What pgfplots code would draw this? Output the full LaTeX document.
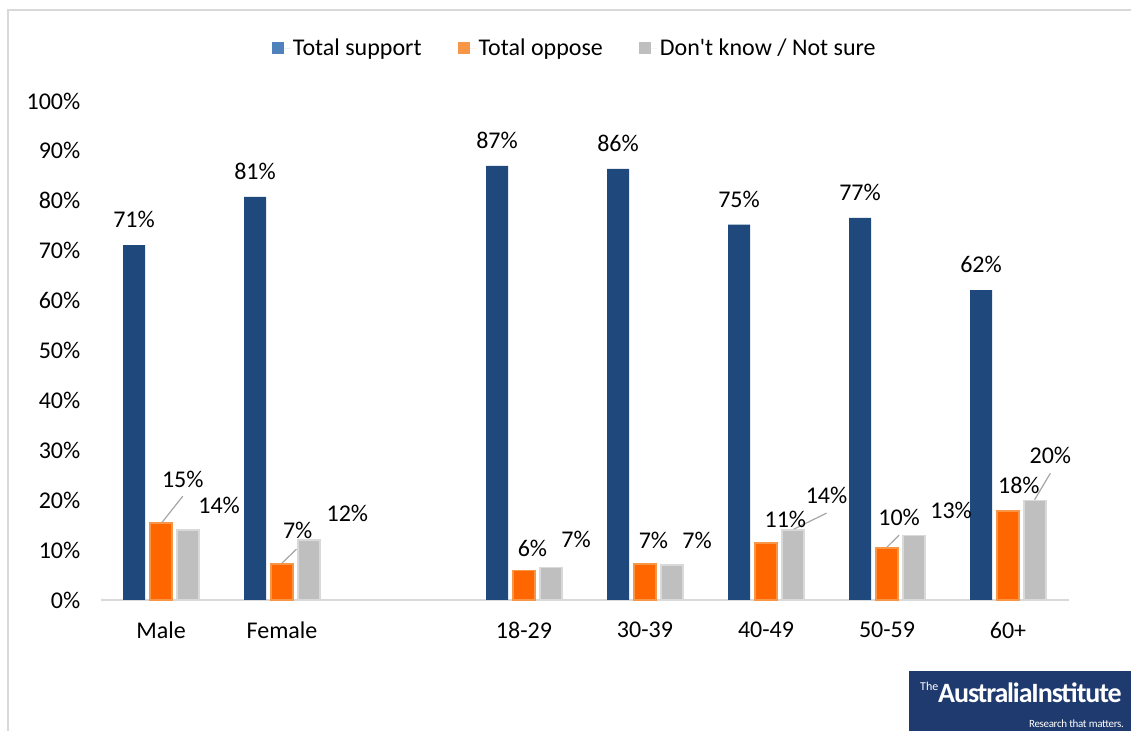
\documentclass[border=0pt]{standalone}
\usepackage{fontspec}
\setmainfont{Carlito}[Ligatures=TeXOff]
\usepackage{pgfplots}
\pgfplotsset{compat=1.18}
\definecolor{supp}{HTML}{1F497D}
\definecolor{suppL}{HTML}{4F81BD}
\definecolor{opp}{HTML}{FF6600}
\definecolor{oppL}{HTML}{F79646}
\definecolor{dk}{HTML}{BFBFBF}
\definecolor{dkL}{HTML}{D9D9D9}
\definecolor{logo}{HTML}{1F3A6E}
\definecolor{leader}{HTML}{A6A6A6}
\begin{document}
\begin{tikzpicture}
\path[use as bounding box, fill=white] (0bp,0bp) rectangle (1131bp,731bp);
\draw[dkL, line width=1.5bp] (8bp,0bp) -- (8bp,721bp) -- (1131bp,721bp);
\begin{axis}[
  at={(100.5bp,131bp)}, anchor=south west,
  scale only axis, width=968bp, height=499bp,
  xmin=-0.5, xmax=7.5, ymin=0, ymax=100,
  axis x line*=bottom, axis y line*=left,
  x axis line style={draw=dkL, line width=1.5bp, -},
  y axis line style={draw=none},
  major tick length=0pt,
  ytick={0,10,...,100},
  yticklabels={0\%,10\%,20\%,30\%,40\%,50\%,60\%,70\%,80\%,90\%,100\%},
  xtick={0,1,3,4,5,6,7},
  xticklabels={Male,Female,18-29,30-39,40-49,50-59,60+},
  tick label style={font=\fontsize{24bp}{28bp}\selectfont, text=black},
  yticklabel style={anchor=east, inner sep=0pt, xshift=-20bp},
  xticklabel style={anchor=north, inner sep=0pt, yshift=-22bp},
  ybar, bar width=22bp,
  clip=false,
  legend columns=3,
  legend style={at={(0.49,1.106)}, anchor=center, draw=none, fill=none,
    font=\fontsize{24bp}{28bp}\selectfont,
    /tikz/every even column/.append style={column sep=34bp}},
  legend image code/.code={\fill[#1] (0bp,-6bp) rectangle (12bp,6bp);\path (0bp,0bp) -- (19bp,0bp);},
]
\addlegendimage{fill=suppL, draw=none}
\addlegendentry{Total support}
\addlegendimage{fill=oppL, draw=none}
\addlegendentry{Total oppose}
\addlegendimage{fill=dk, draw=none}
\addlegendentry{Don't know / Not sure}

\addplot[fill=supp, draw=none, bar shift=-27bp, forget plot,
  nodes near coords={\pgfmathprintnumber[fixed,precision=0,assume math mode=true]{\pgfplotspointmeta}\%},
  every node near coord/.append style={anchor=south, inner sep=0pt, yshift=17bp,
    font=\fontsize{24bp}{28bp}\selectfont, text=black}]
  coordinates {(0,71.1) (1,80.8) (3,87.0) (4,86.4) (5,75.2) (6,76.6) (7,62.1)};
\addplot[fill=opp, draw=oppL, line width=1.5bp, bar shift=0bp, forget plot]
  coordinates {(0,15.4) (1,7.2) (3,5.9) (4,7.2) (5,11.4) (6,10.4) (7,17.8)};
\addplot[fill=dk, draw=dkL, line width=1.5bp, bar shift=27bp, forget plot]
  coordinates {(0,14.0) (1,12.0) (3,6.5) (4,7.0) (5,14.0) (6,12.9) (7,19.9)};

% leader lines
\draw[leader, line width=1.2bp] (axis cs:0.01,15.6) -- (axis cs:0.18,20.8);
\draw[leader, line width=1.2bp] (axis cs:1.0,7.4) -- (axis cs:1.12,10.2);
\draw[leader, line width=1.2bp] (axis cs:5.23,14.2) -- (axis cs:5.50,17.4);
\draw[leader, line width=1.2bp] (axis cs:6.0,10.6) -- (axis cs:6.10,13.0);
\draw[leader, line width=1.2bp] (axis cs:7.22,20.1) -- (axis cs:7.35,25.4);

% data labels for oppose / don't know
\tikzset{lbl/.style={font=\fontsize{24bp}{28bp}\selectfont, inner sep=0pt, anchor=center}}
\node[lbl] at (axis cs:0.18,24.2) {15\%};
\node[lbl] at (axis cs:0.48,19.0) {14\%};
\node[lbl] at (axis cs:1.13,14.0) {7\%};
\node[lbl] at (axis cs:1.54,17.4) {12\%};
\node[lbl] at (axis cs:3.07,10.4) {6\%};
\node[lbl] at (axis cs:3.43,12.2) {7\%};
\node[lbl] at (axis cs:4.07,12.0) {7\%};
\node[lbl] at (axis cs:4.43,12.0) {7\%};
\node[lbl] at (axis cs:5.16,16.2) {11\%};
\node[lbl] at (axis cs:5.50,21.0) {14\%};
\node[lbl] at (axis cs:6.10,16.6) {10\%};
\node[lbl] at (axis cs:6.53,18.0) {13\%};
\node[lbl] at (axis cs:7.09,23.0) {18\%};
\node[lbl] at (axis cs:7.35,28.9) {20\%};
\end{axis}
% logo
\fill[logo] (909bp,0bp) rectangle (1131bp,60bp);
\node[anchor=base west, inner sep=0pt, text=white, font=\fontsize{12bp}{13bp}\selectfont] at (920bp,40bp) {The};
\node[anchor=base west, inner sep=0pt, text=white, font=\fontsize{28bp}{30bp}\selectfont\bfseries] at (938bp,29bp) {\addfontfeatures{LetterSpace=-4}AustraliaInstitute};
\node[anchor=base east, inner sep=0pt, text=white, font=\fontsize{11bp}{12bp}\selectfont] at (1124bp,4bp) {\addfontfeatures{LetterSpace=-3}Research that matters.};
\end{tikzpicture}
\end{document}
